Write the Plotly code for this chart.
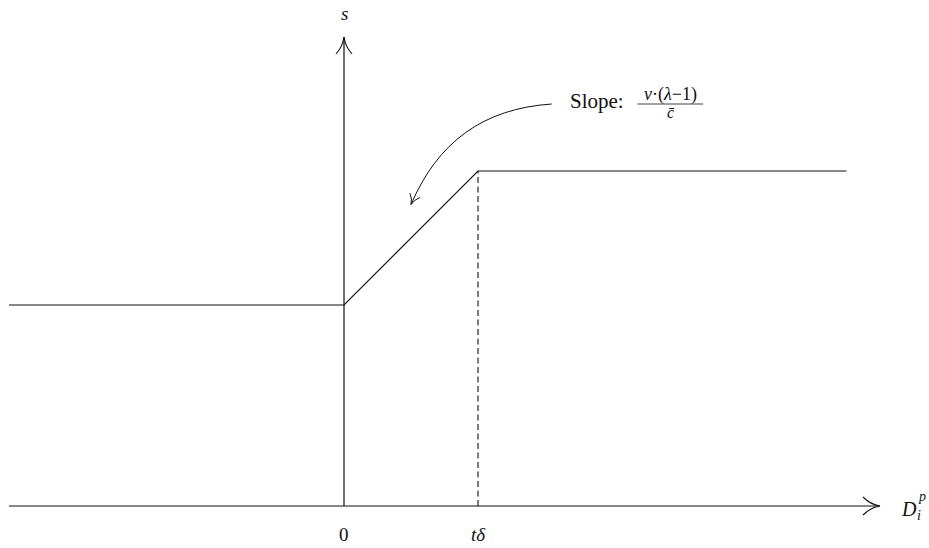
import numpy as np
import plotly.graph_objects as go

# piecewise response s(D): flat, linear ramp up to t*delta, then flat
s_x = [-5, 0, 2, 7.5]
s_y = [3, 3, 5, 5]
t_delta = 2
s_high = 5

x_axis_span = [-5, 8]
y_axis_span = [0, 7]
tick_pos = [0, 2]
tick_text = ["0", "<i>tδ</i>"]

# curved pointer from the slope label to the ramp (cubic bezier in data units)
pointer = [(3.1, 6.0), (2.07, 5.93), (1.40, 5.43), (1.0, 4.5)]

PX = 67.0  # pixels per data unit
W, H = 929, 548
x0_px, y0_px = 344, 506
xr = [-x0_px / PX, (W - x0_px) / PX]
yr = [-(H - y0_px) / PX, y0_px / PX]

FONT = "Liberation Serif"
INK = "#111111"


def chevron(tip, direction, length, half):
    # open "to"-style arrow tip; direction given in pixel space (x right, y up)
    d = np.array(direction, float)
    d /= np.linalg.norm(d)
    n = np.array([-d[1], d[0]])
    t = np.array(tip, float)
    L, Wd = length / PX, half / PX
    back1 = t - L * d + Wd * n
    back2 = t - L * d - Wd * n
    c1 = t - 0.55 * L * d + 0.15 * Wd * n
    c2 = t - 0.55 * L * d - 0.15 * Wd * n
    f = lambda p: f"{p[0]:.4f},{p[1]:.4f}"
    return (f"M{f(back1)} Q{f(c1)} {f(t)} Q{f(c2)} {f(back2)}")


fig = go.Figure()

# axes
fig.add_trace(go.Scatter(x=x_axis_span, y=[0, 0], mode="lines",
                         line=dict(color=INK, width=1.2), hoverinfo="skip"))
fig.add_trace(go.Scatter(x=[0, 0], y=y_axis_span, mode="lines",
                         line=dict(color=INK, width=1.2), hoverinfo="skip"))

# s curve
fig.add_trace(go.Scatter(x=s_x, y=s_y, mode="lines",
                         line=dict(color=INK, width=1.2), hoverinfo="skip"))

# dashed guide at t*delta
fig.add_trace(go.Scatter(x=[t_delta, t_delta], y=[0, s_high], mode="lines",
                         line=dict(color=INK, width=1.1, dash="6px,3.5px"),
                         hoverinfo="skip"))

shapes = []
arrow_line = dict(color=INK, width=1.1)
shapes.append(dict(type="path", path=chevron((x_axis_span[1], 0), (1, 0), 17, 9),
                   line=arrow_line, xref="x", yref="y"))
shapes.append(dict(type="path", path=chevron((0, y_axis_span[1]), (0, 1), 17, 8),
                   line=arrow_line, xref="x", yref="y"))

p0, p1, p2, p3 = pointer
curve = (f"M{p0[0]},{p0[1]} C{p1[0]},{p1[1]} {p2[0]},{p2[1]} {p3[0]},{p3[1]}")
shapes.append(dict(type="path", path=curve, line=dict(color=INK, width=1.0),
                   xref="x", yref="y"))
shapes.append(dict(type="path",
                   path=chevron(p3, (p3[0] - p2[0], p3[1] - p2[1]), 10, 5.5),
                   line=dict(color=INK, width=1.0), xref="x", yref="y"))

# fraction bar for the slope label
frac_x = 4.87
shapes.append(dict(type="line", x0=frac_x - 0.49, x1=frac_x + 0.49,
                   y0=6.0, y1=6.0, line=dict(color=INK, width=0.8),
                   xref="x", yref="y"))

annotations = []
txt = dict(family=FONT, size=19, color=INK)
annotations.append(dict(x=0, y=y_axis_span[1], text="<i>s</i>", yshift=24,
                        font=txt, showarrow=False))
for xp, lab in zip(tick_pos, tick_text):
    annotations.append(dict(x=xp, y=0, text=lab, yshift=-28, font=txt,
                            showarrow=False))

# D_i^p: base letter with stacked sub/superscript
x_lab = x_axis_span[1] + 19 / PX
annotations.append(dict(x=x_lab, y=0, text="<i>D</i>", xanchor="left",
                        yshift=-3, font=dict(family=FONT, size=20, color=INK),
                        showarrow=False))
annotations.append(dict(x=x_lab + 17 / PX, y=0, text="<i>p</i>", xanchor="left",
                        yshift=10, font=dict(family=FONT, size=14, color=INK),
                        showarrow=False))
annotations.append(dict(x=x_lab + 16 / PX, y=0, text="<i>i</i>", xanchor="left",
                        yshift=-9, font=dict(family=FONT, size=14, color=INK),
                        showarrow=False))

annotations.append(dict(x=frac_x - 0.66, y=6.0, text="Slope:", xanchor="right",
                        yshift=3, font=dict(family=FONT, size=21, color=INK),
                        showarrow=False))
annotations.append(dict(x=frac_x, y=6.0, text="<i>ν</i>·(<i>λ</i>−1)",
                        yshift=10, font=dict(family=FONT, size=18, color=INK),
                        showarrow=False))
annotations.append(dict(x=frac_x, y=6.0, text="<i>c̄</i>", yshift=-8,
                        font=dict(family=FONT, size=16, color=INK),
                        showarrow=False))

fig.update_layout(
    width=W, height=H,
    margin=dict(l=0, r=0, t=0, b=0),
    paper_bgcolor="white", plot_bgcolor="white",
    showlegend=False,
    xaxis=dict(range=xr, visible=False, fixedrange=True),
    yaxis=dict(range=yr, visible=False, fixedrange=True),
    shapes=shapes, annotations=annotations,
)

# drop the default 8px page margin so the 929x548 figure fills the window
fig.write_html("out.html", config={"displayModeBar": False},
               post_script="document.body.style.margin='0px';")
